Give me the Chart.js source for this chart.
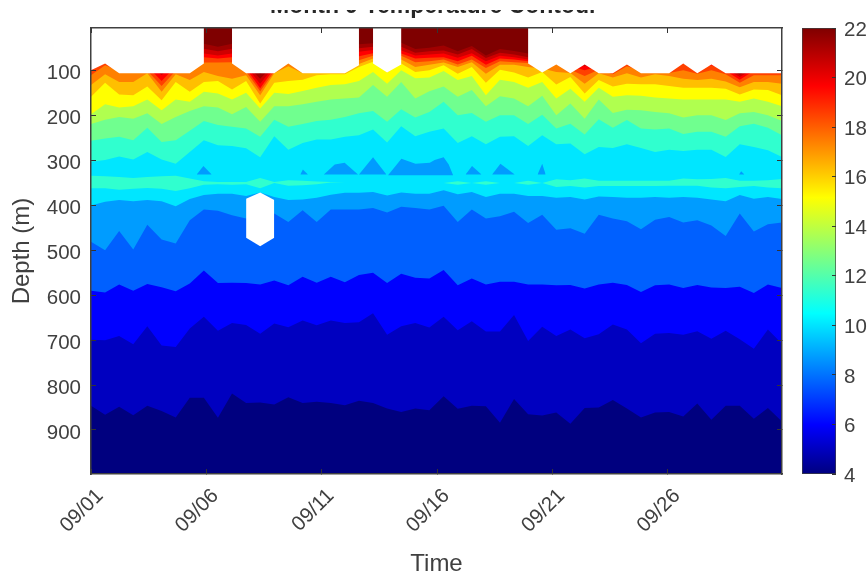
<!DOCTYPE html>
<html>
<head>
<meta charset="utf-8">
<title>Month 9 Temperature Contour</title>
<script src="https://cdn.jsdelivr.net/npm/chart.js@4/dist/chart.umd.js"></script>
<style>
    html, body { margin: 0; padding: 0; background: #fff; }
    #wrap { position: relative; width: 868px; height: 574px; overflow: hidden; }
    canvas { position: absolute; top: 0; filter: blur(0.5px); }
    #contour { left: 0; }
    #colorbar { left: 800px; }
</style>
</head>
<body>
<div id="wrap">
    <canvas id="contour" width="868" height="574"></canvas>
    <canvas id="colorbar" width="68" height="574"></canvas>
</div>
<script>
// Days since 09/01 of each profile
const days = [0, 0.61, 1.22, 1.83, 2.44, 3.06, 3.67, 4.28, 4.89, 5.5, 6.11, 6.72, 7.33, 7.94, 8.55, 9.17, 9.78, 10.39, 11, 11.61, 12.22, 12.83, 13.44, 14.05, 14.66, 15.28, 15.89, 16.5, 17.11, 17.72, 18.33, 18.94, 19.55, 20.16, 20.77, 21.39, 22, 22.61, 23.22, 23.83, 24.44, 25.05, 25.66, 26.27, 26.88, 27.5, 28.11, 28.72, 29.33, 29.94];
const xTickDays = [0, 5, 10, 15, 20, 25];
const xTickLabels = ['09/01', '09/06', '09/11', '09/16', '09/21', '09/26'];
const yTickDepths = [100, 200, 300, 400, 500, 600, 700, 800, 900];
const colorbarRange = [4, 22];

// Depth (m) where each colour band starts
const depthNavy = [846, 866, 848, 867, 846, 858, 872, 828, 828, 873, 819, 840, 839, 843, 827, 840, 837, 840, 845, 835, 840, 852, 860, 852, 856, 825, 853, 846, 847, 884, 831, 865, 868, 861, 886, 851, 850, 833, 852, 872, 861, 860, 870, 841, 877, 846, 846, 875, 851, 881];
const depthDarkBlue = [699, 700, 691, 709, 669, 712, 715, 674, 648, 679, 662, 666, 686, 663, 671, 656, 667, 656, 662, 660, 640, 688, 669, 662, 672, 648, 678, 658, 681, 681, 644, 702, 670, 691, 676, 696, 687, 665, 676, 707, 686, 684, 688, 680, 697, 679, 698, 719, 676, 708];
const depthBlue = [590, 594, 576, 590, 575, 582, 591, 574, 545, 573, 572, 573, 576, 567, 578, 559, 572, 559, 571, 555, 550, 573, 552, 561, 563, 544, 578, 563, 576, 570, 570, 576, 576, 578, 577, 585, 576, 572, 577, 593, 578, 576, 584, 577, 583, 584, 581, 595, 576, 584];
const depthAzure = [481, 500, 457, 498, 443, 476, 485, 433, 409, 412, 422, 429, 426, 418, 437, 411, 437, 409, 409, 409, 406, 416, 403, 406, 409, 401, 437, 409, 429, 424, 414, 439, 421, 454, 451, 463, 421, 429, 435, 453, 432, 426, 438, 433, 445, 468, 418, 458, 442, 438];
const depthSky = [400, 392, 388, 391, 388, 391, 402, 386, 377, 374, 374, 379, 371, 381, 388, 387, 383, 376, 372, 372, 370, 378, 371, 374, 374, 366, 375, 370, 381, 374, 374, 379, 379, 383, 381, 387, 380, 381, 383, 383, 381, 383, 381, 383, 387, 391, 377, 385, 381, 386];
const depthCyan = [303, 299, 291, 298, 281, 298, 307, 281, 255, 266, 268, 273, 293, 246, 276, 261, 253, 253, 247, 244, 231, 260, 224, 246, 236, 229, 261, 246, 264, 247, 246, 268, 244, 264, 262, 286, 270, 272, 264, 272, 281, 276, 279, 276, 276, 292, 264, 270, 277, 292];
const depthTeal = [256, 251, 247, 255, 227, 259, 255, 234, 212, 221, 225, 229, 247, 209, 225, 219, 212, 209, 203, 195, 190, 214, 186, 204, 192, 169, 199, 194, 214, 199, 199, 219, 198, 229, 218, 242, 208, 227, 210, 229, 231, 229, 241, 236, 236, 247, 224, 218, 227, 244];
const depthGreen = [219, 209, 203, 207, 195, 219, 203, 190, 179, 182, 197, 181, 214, 179, 179, 175, 169, 164, 162, 160, 132, 158, 125, 162, 146, 135, 158, 143, 179, 157, 162, 179, 156, 199, 173, 207, 164, 194, 187, 188, 192, 195, 204, 199, 199, 210, 195, 192, 199, 212];
const depthLime = [197, 175, 182, 179, 164, 188, 164, 169, 147, 151, 164, 149, 184, 149, 152, 145, 138, 132, 130, 123, 103, 129, 99, 117, 115, 101, 121, 112, 155, 120, 125, 138, 125, 162, 140, 169, 138, 158, 155, 156, 160, 162, 164, 164, 164, 164, 169, 162, 169, 179];
const depthYellow = [158, 127, 153, 155, 135, 166, 125, 147, 125, 123, 142, 123, 173, 127, 123, 120, 110, 108, 108, 92, 80, 104, 84, 103, 99, 88, 107, 92, 127, 98, 104, 115, 103, 131, 114, 151, 121, 135, 129, 130, 130, 134, 138, 138, 138, 140, 153, 142, 143, 155];
const depthAmber = [132, 108, 125, 125, 106, 147, 108, 121, 103, 112, 118, 110, 155, 106, 90, 106, 105, 99, 95, 85, 73, 95, 75, 92, 87, 82, 92, 81, 107, 87, 87, 92, 95, 103, 105, 129, 106, 115, 106, 115, 108, 112, 118, 121, 118, 124, 137, 125, 125, 129];
const depthOrange = [110, 88, 100, 100, 100, 134, 100, 100, 82, 82, 81, 102, 146, 102, 80, 90, 90, 85, 85, 77, 67, 85, 67, 81, 79, 75, 86, 75, 94, 79, 81, 83, 85, 85, 98, 112, 98, 108, 90, 100, 100, 105, 99, 107, 99, 108, 127, 110, 110, 110];
const depthRedOrange = [100, 80, 90, 90, 90, 123, 90, 90, 70, 73, 70, 95, 139, 95, 70, 80, 80, 75, 75, 68, 61, 75, 62, 73, 71, 70, 79, 67, 87, 73, 75, 79, 75, 75, 90, 99, 90, 95, 84, 90, 90, 92, 84, 95, 88, 100, 120, 100, 95, 95];
const depthRed = [90, 70, 80, 80, 80, 110, 80, 80, 62, 66, 62, 90, 129, 90, 60, 70, 70, 65, 65, 58, 54, 65, 55, 66, 64, 62, 71, 61, 79, 67, 70, 75, 65, 65, 80, 90, 80, 85, 74, 80, 80, 82, 74, 85, 78, 95, 114, 95, 85, 85];
const depthCrimson = [80, 60, 70, 70, 70, 100, 70, 70, 51, 57, 51, 85, 118, 85, 50, 60, 60, 55, 55, 50, 47, 55, 47, 60, 57, 55, 64, 52, 72, 60, 64, 70, 55, 55, 70, 80, 70, 75, 64, 70, 70, 72, 64, 75, 68, 90, 109, 90, 75, 75];
const depthDarkRed = [70, 50, 60, 60, 60, 90, 60, 60, 40, 47, 40, 80, 108, 80, 40, 50, 50, 45, 45, 41, 39, 45, 38, 52, 49, 44, 57, 45, 66, 52, 56, 62, 45, 45, 60, 70, 60, 65, 54, 60, 60, 62, 54, 65, 58, 85, 104, 85, 65, 65];

// Warmer lens inside the cyan band
const lensTop = [334, 335, 337, 339, 337, 335, 334, 340, 346, 348, 348, 348, 339, 348, 344, 345, 347, 348, 350, 350, 350, 350, 350, 350, 350, 350, 346, 350, 346, 350, 350, 345, 350, 342, 344, 340, 345, 345, 345, 345, 345, 345, 340, 342, 341, 339, 345, 345, 344, 341];
const lensBottom = [362, 362, 365, 363, 361, 363, 368, 362, 354, 353, 354, 353, 362, 350, 356, 355, 353, 349, 350, 350, 350, 350, 350, 350, 350, 350, 354, 350, 354, 350, 350, 354, 350, 359, 357, 360, 357, 357, 357, 357, 357, 356, 356, 356, 360, 362, 359, 357, 360, 362];

// Colder patches above the lens
const patchDays = [
    [4.58, 4.87, 5.23],
    [9.07, 9.18, 9.4],
    [10.09, 10.56, 10.99, 11.57],
    [11.61, 12.22, 12.8],
    [12.87, 13.45, 14.06, 14.68, 14.89, 15.28, 15.5, 15.69],
    [16.23, 16.51, 16.92],
    [17.38, 17.74, 18.36],
    [19.35, 19.55, 19.7],
    [28.08, 28.17, 28.31]
];
const patchDepths = [
    [331, 312, 331],
    [331, 320, 331],
    [331, 309, 305, 331],
    [331, 293, 331],
    [333, 296, 307, 305, 299, 293, 309, 333],
    [331, 312, 331],
    [331, 307, 331],
    [331, 307, 331],
    [331, 324, 331]
];

// No data above this line near the surface
const maskDays = [0, 0.61, 1.22, 4.28, 4.89, 4.89, 6.11, 6.11, 6.72, 7.94, 8.55, 9.17, 11, 11.61, 11.61, 12.22, 12.22, 12.83, 13.44, 13.44, 18.94, 18.94, 19.55, 20.16, 20.77, 21.39, 22, 22.61, 23.22, 23.83, 25.05, 25.66, 26.27, 26.88, 27.5, 29.94];
const maskDepths = [99, 84, 106, 106, 84, 5, 5, 84, 106, 106, 84, 106, 106, 88, 5, 5, 84, 104, 86, 5, 5, 84, 104, 86, 106, 86, 106, 106, 86, 106, 106, 84, 106, 86, 106, 106];

// Missing profile around 09/08
const holeDays = [6.72, 7.33, 7.94];
const holeTop = [385, 371, 388];
const holeBottom = [472, 491, 472];

const depthMin = 5;
const depthMax = 998;
const dayMax = 29.94;
const textColor = '#404040';
const frameColor = '#404040';
const tickFont = { family: 'Liberation Sans', size: 20.5 };
const axisTitleFont = { family: 'Liberation Sans', size: 24 };

function toPoints(xs, ys) {
    return xs.map((x, i) => ({ x: x, y: ys[i] }));
}

// Dataset 0 is painted last by the filler, so coldest bands come before warmer ones
function band(xs, ys, color, fill) {
    return {
        data: toPoints(xs, ys),
        backgroundColor: color,
        borderWidth: 0,
        pointRadius: 0,
        tension: 0,
        fill: fill
    };
}

const toBottom = { value: depthMax };
const datasets = [
    band(maskDays, maskDepths, '#ffffff', { value: depthMin }),
    band(holeDays, holeTop, '#ffffff', '+1'),
    band(holeDays, holeBottom, '#ffffff', false),
    band(days, lensTop, '#30ffcf', '+1'),
    band(days, lensBottom, '#30ffcf', false)
];
patchDays.forEach((xs, i) => {
    datasets.push(band(xs, patchDepths[i], '#009cff', { value: patchDepths[i][0] }));
});
datasets.push(
    band(days, depthNavy, '#00007f', toBottom),
    band(days, depthDarkBlue, '#0000c0', toBottom),
    band(days, depthBlue, '#0000ff', toBottom),
    band(days, depthAzure, '#0060ff', toBottom),
    band(days, depthSky, '#009cff', toBottom),
    band(days, depthCyan, '#00e6ff', toBottom),
    band(days, depthTeal, '#30ffcf', toBottom),
    band(days, depthGreen, '#70ff8f', toBottom),
    band(days, depthLime, '#b0ff4f', toBottom),
    band(days, depthYellow, '#ffff00', toBottom),
    band(days, depthAmber, '#ffbf00', toBottom),
    band(days, depthOrange, '#ff8000', toBottom),
    band(days, depthRedOrange, '#ff4000', toBottom),
    band(days, depthRed, '#ff0000', toBottom),
    band(days, depthCrimson, '#cf0000', toBottom),
    band(days, depthDarkRed, '#a00000', toBottom),
    band([0, dayMax], [depthMin, depthMin], '#7f0000', toBottom)
);

// Ticks point into the plot like the original, drawn above the fills
function insideGrid() {
    return { drawOnChartArea: false, drawTicks: true, tickLength: -5, tickColor: '#333333', z: 1 };
}
const frameBorder = { display: true, color: frameColor, width: 1.5, z: 1 };

function setTicks(values) {
    return (scale) => { scale.ticks = values.map((v) => ({ value: v })); };
}

// The original figure is cropped through its title
const cropTitle = {
    id: 'cropTitle',
    afterDraw(chart) {
        chart.ctx.save();
        chart.ctx.fillStyle = '#ffffff';
        chart.ctx.fillRect(0, 0, chart.width, 10);
        chart.ctx.restore();
    }
};

new Chart(document.getElementById('contour'), {
    type: 'line',
    data: { datasets: datasets },
    plugins: [cropTitle],
    options: {
        responsive: false,
        animation: false,
        plugins: {
            legend: { display: false },
            tooltip: { enabled: false },
            title: {
                display: true,
                text: 'Month 9 Temperature Contour',
                color: '#262626',
                font: { family: 'Liberation Sans', size: 23, weight: 'bold' },
                padding: { top: -7, bottom: 7.4 }
            }
        },
        scales: {
            x: {
                type: 'linear',
                position: 'bottom',
                min: 0,
                max: dayMax,
                afterBuildTicks: setTicks(xTickDays),
                afterFit(scale) { scale.height = 100; },
                grid: insideGrid(),
                border: frameBorder,
                title: {
                    display: true,
                    text: 'Time',
                    color: textColor,
                    font: axisTitleFont,
                    padding: { top: 0, bottom: -4.4 }
                },
                ticks: {
                    autoSkip: false,
                    maxRotation: 45,
                    minRotation: 45,
                    padding: 15,
                    labelOffset: 9,
                    color: textColor,
                    font: tickFont,
                    callback: (value) => xTickLabels[xTickDays.indexOf(value)]
                }
            },
            x2: {
                type: 'linear',
                position: 'top',
                min: 0,
                max: dayMax,
                afterBuildTicks: setTicks(xTickDays),
                afterFit(scale) { scale.height = 0; },
                grid: insideGrid(),
                border: frameBorder,
                ticks: { display: false }
            },
            y: {
                position: 'left',
                reverse: true,
                min: depthMin,
                max: depthMax,
                afterBuildTicks: setTicks(yTickDepths),
                afterFit(scale) { scale.width = 91; },
                grid: insideGrid(),
                border: frameBorder,
                title: {
                    display: true,
                    text: 'Depth (m)',
                    color: textColor,
                    font: axisTitleFont,
                    padding: { top: 7.6, bottom: 0 }
                },
                ticks: {
                    padding: 15,
                    labelOffset: 3,
                    color: textColor,
                    font: tickFont
                }
            },
            y2: {
                position: 'right',
                reverse: true,
                min: depthMin,
                max: depthMax,
                afterBuildTicks: setTicks(yTickDepths),
                afterFit(scale) { scale.width = 86; },
                grid: insideGrid(),
                border: frameBorder,
                ticks: { display: false }
            }
        }
    }
});

// Colour bar: one floating bar filled with the jet ramp
const jetStops = [
    [0, '#00007f'], [0.11, '#0000ff'], [0.36, '#00ffff'],
    [0.62, '#ffff00'], [0.87, '#ff0000'], [1, '#7f0000']
];

function jetGradient(context) {
    const area = context.chart.chartArea;
    if (!area) return '#00ffff';
    const gradient = context.chart.ctx.createLinearGradient(0, area.bottom, 0, area.top);
    jetStops.forEach((stop) => gradient.addColorStop(stop[0], stop[1]));
    return gradient;
}

new Chart(document.getElementById('colorbar'), {
    type: 'bar',
    data: {
        labels: ['temperature'],
        datasets: [{
            data: [colorbarRange],
            backgroundColor: jetGradient,
            borderColor: frameColor,
            borderWidth: 1,
            borderSkipped: false,
            barPercentage: 1,
            categoryPercentage: 1
        }]
    },
    options: {
        responsive: false,
        animation: false,
        layout: { padding: { left: 2, right: 0, top: 28, bottom: 100 } },
        plugins: { legend: { display: false }, tooltip: { enabled: false } },
        scales: {
            x: { display: false },
            y: {
                position: 'right',
                min: colorbarRange[0],
                max: colorbarRange[1],
                afterFit(scale) { scale.width = 32; },
                grid: { drawOnChartArea: false, tickLength: -4, tickColor: '#333333', z: 1 },
                border: { display: false },
                ticks: {
                    stepSize: 2,
                    padding: 12,
                    labelOffset: 2,
                    color: textColor,
                    font: tickFont
                }
            }
        }
    }
});
</script>
</body>
</html>
